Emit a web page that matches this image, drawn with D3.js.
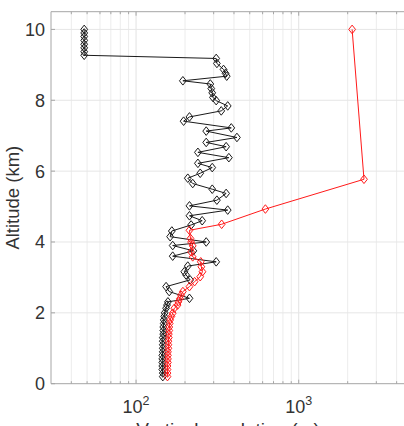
<!DOCTYPE html>
<html>
<head>
<meta charset="utf-8">
<script src="https://cdn.jsdelivr.net/npm/d3@7"></script>
<style>
  body { margin: 0; background: #fff; }
  text { font-family: "Liberation Sans", Arial, Helvetica, sans-serif; fill: #333; }
</style>
</head>
<body>
<div id="chart"></div>
<script>
// black profile: altitude (km) and vertical resolution (m)
const blackAlt = [0.2, 0.3, 0.4, 0.5, 0.6, 0.7, 0.8, 0.9, 1.0, 1.1, 1.2, 1.3, 1.4, 1.5, 1.6, 1.7, 1.8, 1.9, 2.0,
  2.13, 2.22, 2.31, 2.41, 2.60, 2.74, 2.93, 3.07, 3.16, 3.32, 3.44, 3.60, 3.75, 3.90, 4.00, 4.15, 4.31, 4.48,
  4.60, 4.74, 4.90, 5.02, 5.18, 5.37, 5.49, 5.65, 5.80, 5.94, 6.10, 6.22, 6.38, 6.53, 6.69, 6.81, 6.95, 7.13,
  7.22, 7.41, 7.53, 7.70, 7.84, 7.99, 8.08, 8.21, 8.33, 8.46, 8.55, 8.68, 8.76, 8.87, 9.04, 9.18,
  9.27, 9.37, 9.48, 9.58, 9.69, 9.80, 9.90, 10.0];
const blackRes = [146, 146, 145, 145, 145, 145, 145, 146, 146, 146, 146, 146, 147, 147, 147, 148, 148, 149, 150,
  153, 155, 157, 213, 160, 153, 215, 203, 198, 208, 311, 168, 225, 168, 270, 162, 166, 218,
  255, 213, 366, 213, 314, 358, 294, 223, 208, 248, 294, 240, 372, 240, 358, 270, 417, 270,
  385, 196, 213, 334, 366, 311, 297, 294, 290, 286, 194, 361, 355, 345, 314, 311,
  48, 48, 48, 48, 48, 48, 48, 48];

// red profile
const redAlt = [0.2, 0.3, 0.4, 0.5, 0.6, 0.7, 0.8, 0.9, 1.0, 1.1, 1.2, 1.3, 1.4, 1.5, 1.6, 1.7, 1.8, 1.9,
  1.99, 2.13, 2.22, 2.31, 2.40, 2.50, 2.60, 2.74, 2.88, 3.02, 3.16, 3.30, 3.44, 3.58, 3.72, 3.89, 4.00,
  4.10, 4.33, 4.50, 4.93, 5.77, 10.0];
const redRes = [156, 156, 156, 156, 157, 157, 157, 157, 158, 158, 158, 159, 159, 160, 160, 161, 162, 165,
  168, 172, 180, 182, 186, 189, 194, 213, 229, 248, 256, 252, 250, 223, 218, 223, 218,
  216, 213, 336, 624, 2520, 2130];

const yTicks = [0, 2, 4, 6, 8, 10];
const xMajor = [100, 1000];
const xMinor = [40, 50, 60, 70, 80, 90, 200, 300, 400, 500, 600, 700, 800, 900, 2000, 3000, 4000];

const W = 404, H = 426;
const margin = { left: 51, top: 11.7, right: 412.4, bottom: 383.7 };

const x = d3.scaleLog().domain([30, 5000]).range([margin.left, margin.right]);
const y = d3.scaleLinear().domain([0, 10.5]).range([margin.bottom, margin.top]);

const svg = d3.select('#chart').append('svg')
  .attr('width', W)
  .attr('height', H);

svg.append('defs').append('clipPath').attr('id', 'plot')
  .append('rect')
  .attr('x', margin.left).attr('y', margin.top)
  .attr('width', margin.right - margin.left).attr('height', margin.bottom - margin.top);

// grid
const grid = svg.append('g');
grid.selectAll('line.minor')
  .data(xMinor)
  .join('line')
    .attr('x1', d => x(d)).attr('x2', d => x(d))
    .attr('y1', margin.top).attr('y2', margin.bottom)
    .attr('stroke', '#ececec').attr('stroke-width', 1);
grid.selectAll('line.majx')
  .data(xMajor)
  .join('line')
    .attr('x1', d => x(d)).attr('x2', d => x(d))
    .attr('y1', margin.top).attr('y2', margin.bottom)
    .attr('stroke', '#e2e2e2').attr('stroke-width', 1);
grid.selectAll('line.majy')
  .data(yTicks.slice(1))
  .join('line')
    .attr('x1', margin.left).attr('x2', margin.right)
    .attr('y1', d => y(d)).attr('y2', d => y(d))
    .attr('stroke', '#e6e6e6').attr('stroke-width', 1);

// frame + ticks
const axisColor = '#a6a6a6';
const frame = svg.append('g').attr('stroke', axisColor).attr('stroke-width', 1).attr('fill', 'none');
frame.append('line').attr('x1', margin.left).attr('x2', W).attr('y1', margin.top).attr('y2', margin.top);
frame.append('line').attr('x1', margin.left).attr('x2', W).attr('y1', margin.bottom).attr('y2', margin.bottom);
frame.append('line').attr('x1', margin.left).attr('x2', margin.left).attr('y1', margin.top).attr('y2', margin.bottom);

const allX = xMajor.map(v => ({ v, len: 4 })).concat(xMinor.map(v => ({ v, len: 2.5 })));
frame.selectAll('line.tb')
  .data(allX)
  .join('line')
    .attr('x1', d => x(d.v)).attr('x2', d => x(d.v))
    .attr('y1', margin.bottom).attr('y2', d => margin.bottom - d.len);
frame.selectAll('line.tt')
  .data(allX)
  .join('line')
    .attr('x1', d => x(d.v)).attr('x2', d => x(d.v))
    .attr('y1', margin.top).attr('y2', d => margin.top + d.len);
frame.selectAll('line.yl')
  .data(yTicks)
  .join('line')
    .attr('x1', margin.left).attr('x2', margin.left + 4)
    .attr('y1', d => y(d)).attr('y2', d => y(d));

// tick labels
svg.selectAll('text.yt')
  .data(yTicks)
  .join('text')
    .attr('x', margin.left - 6)
    .attr('y', d => y(d) + 6.5)
    .attr('text-anchor', 'end')
    .attr('font-size', 18)
    .text(d => d);

const xl = svg.selectAll('text.xt')
  .data(xMajor)
  .join('text')
    .attr('x', d => x(d))
    .attr('y', 413)
    .attr('text-anchor', 'middle')
    .attr('font-size', 18);
xl.append('tspan').text('10');
xl.append('tspan').attr('dy', -8).attr('font-size', 12.5).text(d => Math.round(Math.log10(d)));

// axis titles
svg.append('text')
  .attr('transform', `translate(19,${(margin.top + margin.bottom) / 2}) rotate(-90)`)
  .attr('text-anchor', 'middle')
  .attr('font-size', 18.5)
  .text('Altitude (km)');
svg.append('text')
  .attr('x', 228)
  .attr('y', 435.5)
  .attr('text-anchor', 'middle')
  .attr('font-size', 19)
  .text('Vertical resolution (m)');

// series
const diamond = 'M0,-4.3L3.4,0L0,4.3L-3.4,0Z';
const series = [
  { alt: blackAlt, res: blackRes, color: '#1a1a1a' },
  { alt: redAlt, res: redRes, color: '#ff1a1a' }
];
const line = d3.line().x(d => x(d[0])).y(d => y(d[1]));
const plot = svg.append('g').attr('clip-path', 'url(#plot)');

series.forEach(s => {
  const pts = s.alt.map((a, i) => [s.res[i], a]);
  plot.append('path')
    .datum(pts)
    .attr('d', line)
    .attr('fill', 'none')
    .attr('stroke', s.color)
    .attr('stroke-width', 1);
  plot.append('g')
    .selectAll('path')
    .data(pts)
    .join('path')
      .attr('d', diamond)
      .attr('transform', d => `translate(${x(d[0])},${y(d[1])})`)
      .attr('fill', 'none')
      .attr('stroke', s.color)
      .attr('stroke-width', 1);
});
</script>
</body>
</html>
